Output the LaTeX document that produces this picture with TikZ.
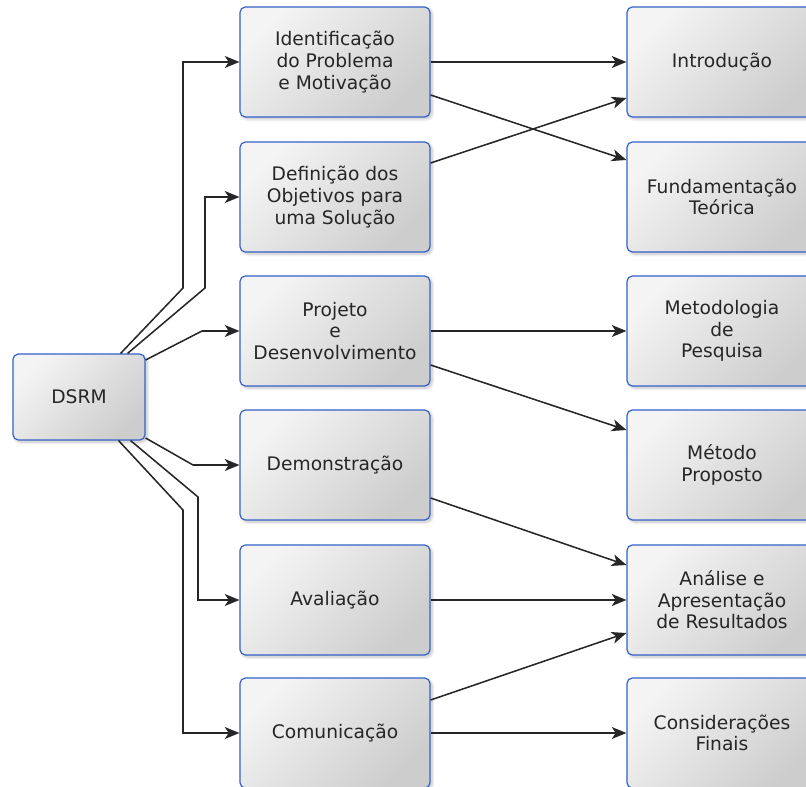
\documentclass[tikz,border=0pt]{standalone}
\usepackage{fontspec}
\setmainfont{DejaVu Sans}
\usetikzlibrary{arrows.meta,calc,shadows.blur}

\definecolor{bordaazul}{HTML}{3462C8}
\definecolor{cinzaclaro}{HTML}{F4F4F4}
\definecolor{cinzaescuro}{HTML}{CDCDCD}
\definecolor{textocinza}{HTML}{262626}

\tikzset{
  etapa/.style={draw=bordaazul, line width=0.9pt, rounded corners=4pt,
    top color=cinzaclaro, bottom color=cinzaescuro, shading angle=45,
    minimum width=142.5pt, minimum height=82.5pt, align=center,
    text=textocinza, font=\fontsize{14}{16.2}\selectfont,
    blur shadow={shadow xshift=1.5pt, shadow yshift=-1.5pt, shadow blur steps=6, shadow opacity=25}},
  seta/.style={-{Stealth[length=11pt,width=9pt,inset=3pt]}, line width=1.15pt, black!85}
}

\begin{document}
\begin{tikzpicture}[x=0.75pt, y=-0.75pt]
    \useasboundingbox (0,0) rectangle (806,787);

    \node[etapa, minimum width=99pt, minimum height=64.5pt] (dsrm) at (79,397) {DSRM};

    % etapas do DSRM
    \node[etapa] (ident) at (335,62)  {Identificação\\do Problema\\e Motivação};
    \node[etapa] (objet) at (335,197) {Definição dos\\Objetivos para\\uma Solução};
    \node[etapa] (proj)  at (335,331) {Projeto\\e\\Desenvolvimento};
    \node[etapa] (demo)  at (335,465) {Demonstração};
    \node[etapa] (aval)  at (335,600) {Avaliação};
    \node[etapa] (comu)  at (335,733) {Comunicação};

    % capitulos
    \node[etapa] (intro)  at (722,62)  {Introdução};
    \node[etapa] (fund)   at (722,197) {Fundamentação\\Teórica};
    \node[etapa] (metod)  at (722,331) {Metodologia\\de\\Pesquisa};
    \node[etapa] (metodo) at (722,465) {Método\\Proposto};
    \node[etapa] (anal)   at (722,600) {Análise e\\Apresentação\\de Resultados};
    \node[etapa] (consid) at (722,733) {Considerações\\Finais};

    \draw[seta] ($(dsrm.north east)+(-25,0)$) -- (183,288) |- (ident.west);
    \draw[seta] ($(dsrm.north east)+(-18,0)$) -- (205,288) |- (objet.west);
    \draw[seta] ($(dsrm.east)+(0,-37)$) -- (202,331) -- (proj.west);
    \draw[seta] ($(dsrm.east)+(0,41)$) -- (193,465) -- (demo.west);
    \draw[seta] ($(dsrm.south east)+(-15,0)$) -- (198,497) |- (aval.west);
    \draw[seta] ($(dsrm.south east)+(-27,0)$) -- (183,510) |- (comu.west);

    \draw[seta] (ident.east) -- (intro.west);
    \draw[seta] ($(ident.east)+(0,33)$) -- ($(fund.west)+(0,-37)$);
    \draw[seta] ($(objet.east)+(0,-34)$) -- ($(intro.west)+(0,36)$);
    \draw[seta] (proj.east) -- (metod.west);
    \draw[seta] ($(proj.east)+(0,34)$) -- ($(metodo.west)+(0,-35)$);
    \draw[seta] ($(demo.east)+(0,33)$) -- ($(anal.west)+(0,-35)$);
    \draw[seta] (aval.east) -- (anal.west);
    \draw[seta] ($(comu.east)+(0,-33)$) -- ($(anal.west)+(0,33)$);
    \draw[seta] (comu.east) -- (consid.west);
\end{tikzpicture}
\end{document}
